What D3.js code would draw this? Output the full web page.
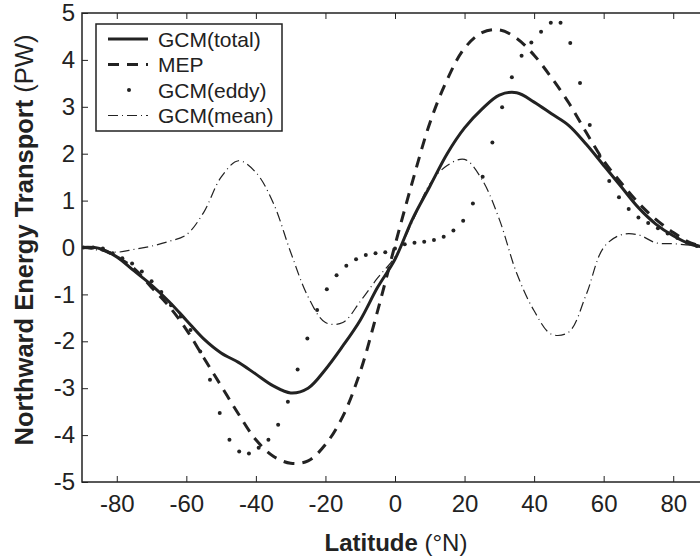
<!DOCTYPE html>
<html>
<head>
<meta charset="utf-8">
<script src="https://cdn.jsdelivr.net/npm/d3@7"></script>
<style>
  body { margin: 0; background: #fff; }
  svg { display: block; font-family: "Liberation Sans", Arial, Helvetica, sans-serif; }
</style>
</head>
<body>
<div id="chart"></div>
<script>
// latitudes (deg N) for the smooth curves
var lats = [-90, -85, -80, -75, -70, -65, -60, -55, -50, -45, -40, -35, -30, -25, -20, -15, -10, -5,
            0, 5, 10, 15, 20, 25, 30, 35, 40, 45, 50, 55, 60, 65, 70, 75, 80, 85, 90];

// transports in PW
var gcmTotal = [0, -0.02, -0.2, -0.5, -0.8, -1.15, -1.55, -1.95, -2.25, -2.45, -2.7, -2.95, -3.1, -3.0, -2.6, -2.1, -1.55, -0.85,
                -0.25, 0.6, 1.3, 2.0, 2.55, 2.95, 3.25, 3.3, 3.1, 2.85, 2.6, 2.2, 1.75, 1.3, 0.85, 0.5, 0.25, 0.07, 0];
var mep = [0, -0.03, -0.2, -0.45, -0.85, -1.25, -1.75, -2.35, -2.95, -3.55, -4.1, -4.45, -4.6, -4.55, -4.2, -3.6, -2.65, -1.35,
           0.05, 1.4, 2.65, 3.58, 4.25, 4.58, 4.64, 4.46, 4.1, 3.62, 3.08, 2.45, 1.85, 1.38, 0.95, 0.6, 0.32, 0.1, 0];
var gcmMean = [0, -0.06, -0.1, -0.04, 0.03, 0.13, 0.27, 0.75, 1.5, 1.85, 1.6, 0.95, -0.1, -1.05, -1.6, -1.6, -1.15, -0.65,
               -0.2, 0.55, 1.35, 1.75, 1.88, 1.45, 0.6, -0.55, -1.35, -1.85, -1.8, -1.0, 0.0, 0.27, 0.27, 0.1, 0.08, 0.05, 0];

// eddy part is drawn as grid-point dots
var eddyLats = [-89.6, -86.8, -84.0, -81.2, -78.4, -75.6, -72.8, -70.0, -67.2, -64.4, -61.6, -58.8, -56.0, -53.2, -50.4,
                -47.6, -44.8, -42.0, -39.2, -36.4, -33.6, -30.8, -28.0, -25.2, -22.4, -19.6, -16.8, -14.0, -11.2, -8.4,
                -5.6, -2.8, 0, 2.8, 5.6, 8.4, 11.2, 14.0, 16.8, 19.6, 22.4, 25.2, 28.0, 30.8, 33.6, 36.4, 39.2, 42.0,
                44.8, 47.6, 50.4, 53.2, 56.0, 58.8, 61.6, 64.4, 67.2, 70.0, 72.8, 75.6, 78.4, 81.2, 84.0, 86.8, 89.6];
var gcmEddy = [0, 0, -0.02, -0.12, -0.23, -0.34, -0.51, -0.72, -0.95, -1.23, -1.47, -1.76, -2.22, -2.82, -3.53,
               -4.1, -4.35, -4.39, -4.27, -4.1, -3.78, -3.29, -2.6, -1.94, -1.33, -0.89, -0.59, -0.39, -0.25, -0.16,
               -0.12, -0.1, -0.02, 0.07, 0.1, 0.12, 0.16, 0.23, 0.36, 0.57, 0.94, 1.51, 2.24, 2.99, 3.63, 4.09, 4.37, 4.6,
               4.79, 4.79, 4.36, 3.51, 2.61, 1.95, 1.42, 1.07, 0.82, 0.64, 0.52, 0.41, 0.3, 0.2, 0.1, 0.03, 0];

var xTicks = [-80, -60, -40, -20, 0, 20, 40, 60, 80];
var yTicks = [-5, -4, -3, -2, -1, 0, 1, 2, 3, 4, 5];
var legendNames = ["GCM(total)", "MEP", "GCM(eddy)", "GCM(mean)"];

function main() {
    var W = 700, H = 557;
    var mL = 82, mR = 708, mT = 13, mB = 482;

    var svg = d3.select("#chart").append("svg").attr("width", W).attr("height", H);

    var x = d3.scaleLinear().domain([-90, 90]).range([mL, mR]);
    var y = d3.scaleLinear().domain([-5, 5]).range([mB, mT]);
    var fmt = function(d) { return String(d); };  // plain hyphen minus

    svg.append("clipPath").attr("id", "plotclip")
        .append("rect").attr("x", mL).attr("y", mT)
        .attr("width", mR - mL).attr("height", mB - mT);

    // axes, ticks pointing inward
    var xb = svg.append("g").attr("transform", "translate(0," + mB + ")")
        .call(d3.axisBottom(x).tickValues(xTicks).tickSize(-6).tickPadding(13).tickFormat(fmt));
    var xt = svg.append("g").attr("transform", "translate(0," + mT + ")")
        .call(d3.axisTop(x).tickValues(xTicks).tickSize(-6).tickFormat(""));
    var yl = svg.append("g").attr("transform", "translate(" + mL + ",0)")
        .call(d3.axisLeft(y).tickValues(yTicks).tickSize(-6).tickPadding(7).tickFormat(fmt));
    [xb, xt, yl].forEach(function(g) {
        g.select(".domain").remove();
        g.selectAll("line").attr("stroke", "#222").attr("stroke-width", 1);
        g.selectAll("text").attr("fill", "#222").style("font-size", "24px")
            .style("font-family", "'Liberation Sans', Arial, sans-serif");
    });

    // frame
    svg.append("rect").attr("x", mL).attr("y", mT)
        .attr("width", mR - mL).attr("height", mB - mT)
        .attr("fill", "none").attr("stroke", "#222").attr("stroke-width", 1.5);

    var plot = svg.append("g").attr("clip-path", "url(#plotclip)");

    function curve(vals) {
        return d3.line()
            .x(function(d, i) { return x(lats[i]); })
            .y(function(d) { return y(d); })
            .curve(d3.curveCatmullRom)(vals);
    }

    plot.append("path").attr("d", curve(gcmMean)).attr("fill", "none")
        .attr("stroke", "#222").attr("stroke-width", 1.2).attr("stroke-dasharray", "10,4,1,4");
    plot.append("path").attr("d", curve(mep)).attr("fill", "none")
        .attr("stroke", "#222").attr("stroke-width", 3).attr("stroke-dasharray", "11,8");
    plot.append("path").attr("d", curve(gcmTotal)).attr("fill", "none")
        .attr("stroke", "#222").attr("stroke-width", 3);
    plot.selectAll("circle.eddy").data(gcmEddy).enter().append("circle")
        .attr("class", "eddy")
        .attr("cx", function(d, i) { return x(eddyLats[i]); })
        .attr("cy", function(d) { return y(d); })
        .attr("r", 2).attr("fill", "#222");

    // legend
    var lg = svg.append("g");
    lg.append("rect").attr("x", 96).attr("y", 24).attr("width", 186).attr("height", 107)
        .attr("fill", "#fff").attr("stroke", "#222").attr("stroke-width", 1.5);
    var styles = [
        {w: 3, dash: null},
        {w: 3, dash: "11,8"},
        {w: 0, dash: null},
        {w: 1.2, dash: "10,4,1,4"}
    ];
    legendNames.forEach(function(name, i) {
        var ly = 39 + i * 25.5;
        if (i == 2) {
            lg.append("circle").attr("cx", 129).attr("cy", ly).attr("r", 2).attr("fill", "#222");
        } else {
            lg.append("line").attr("x1", 108).attr("x2", 148).attr("y1", ly).attr("y2", ly)
                .attr("stroke", "#222").attr("stroke-width", styles[i].w)
                .attr("stroke-dasharray", styles[i].dash);
        }
        lg.append("text").attr("x", 158).attr("y", ly).attr("dy", "0.36em")
            .style("font-size", "21px").attr("fill", "#222").text(name);
    });

    // axis titles
    var xt2 = svg.append("text").attr("x", 396).attr("y", 551)
        .attr("text-anchor", "middle").style("font-size", "24px").attr("fill", "#222");
    xt2.append("tspan").style("font-weight", "bold").text("Latitude");
    xt2.append("tspan").text(" (°N)");

    var yt = svg.append("text").attr("transform", "translate(33," + 240 + ") rotate(-90)")
        .attr("text-anchor", "middle").style("font-size", "25.5px").attr("fill", "#222");
    yt.append("tspan").style("font-weight", "bold").text("Northward Energy Transport");
    yt.append("tspan").text(" (PW)");
}

main();
</script>
</body>
</html>
